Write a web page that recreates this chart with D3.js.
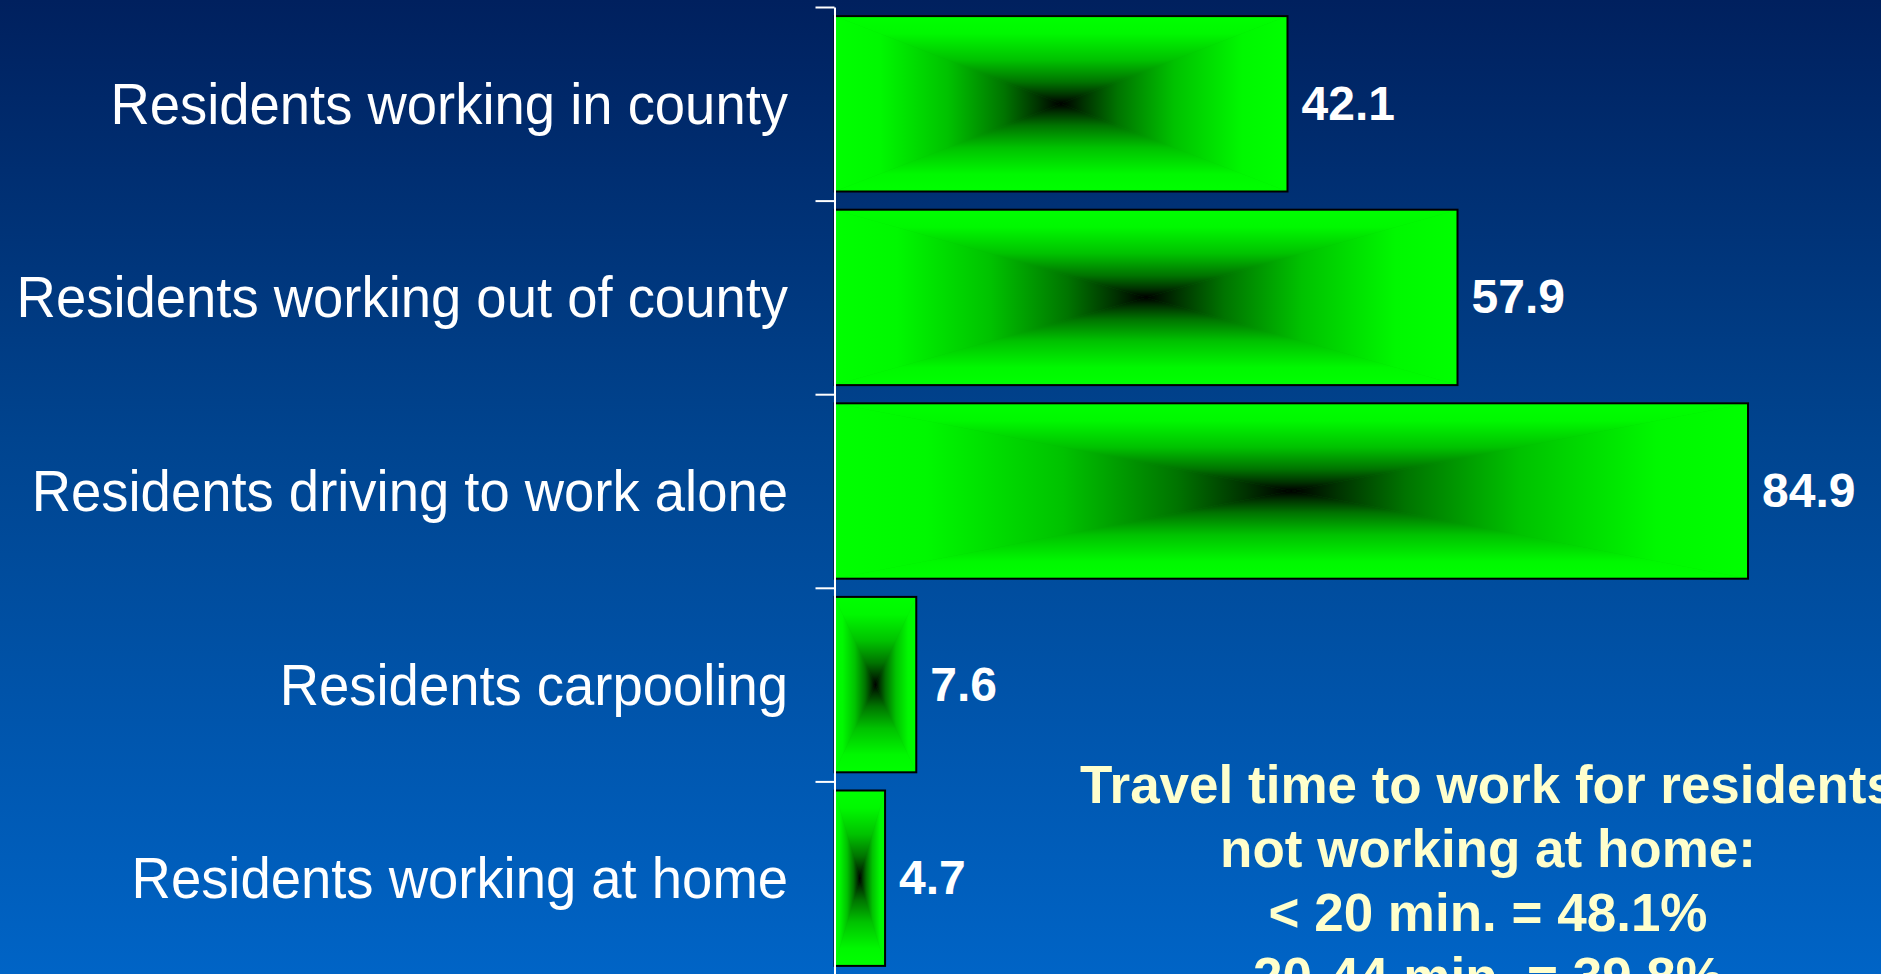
<!DOCTYPE html>
<html lang="en">
<head>
    <meta charset="UTF-8">
    <title>Residents commuting</title>
    <script src="https://cdnjs.cloudflare.com/ajax/libs/d3/7.8.5/d3.min.js"></script>
    <style>
        body { margin: 0; overflow: hidden; background: #00215e; }
        svg { display: block; }
    </style>
</head>
<body>
    <div id="chart"></div>

    <script>
        // chart data
        const categories = [
            "Residents working in county",
            "Residents working out of county",
            "Residents driving to work alone",
            "Residents carpooling",
            "Residents working at home"
        ];
        const values = [42.1, 57.9, 84.9, 7.6, 4.7];
        const noteLines = [
            "Travel time to work for residents",
            "not working at home:",
            "< 20 min. = 48.1%",
            "20-44 min. = 39.8%"
        ];

        const width = 1881, height = 974;
        const axisX = 834.5;

        const svg = d3.select("#chart")
            .append("svg")
            .attr("width", width)
            .attr("height", height);

        const defs = svg.append("defs");

        // slide background
        const bg = defs.append("linearGradient")
            .attr("id", "bg")
            .attr("x1", 0).attr("y1", 0).attr("x2", 0).attr("y2", 1);
        bg.append("stop").attr("offset", 0).attr("stop-color", "#00205e");
        bg.append("stop").attr("offset", 0.45).attr("stop-color", "#00448f");
        bg.append("stop").attr("offset", 1).attr("stop-color", "#0064c6");

        svg.append("rect")
            .attr("width", width)
            .attr("height", height)
            .attr("fill", "url(#bg)");

        // "from center" fill: four triangles, each with a linear ramp edge -> centre
        const ramps = [
            { id: "gTop", x1: 0, y1: 0, x2: 0, y2: 1 },
            { id: "gBottom", x1: 0, y1: 1, x2: 0, y2: 0 },
            { id: "gLeft", x1: 0, y1: 0, x2: 1, y2: 0 },
            { id: "gRight", x1: 1, y1: 0, x2: 0, y2: 0 }
        ];
        const rampStops = [
            [0, "#00ff00"], [0.2, "#00f800"], [0.5, "#00c200"],
            [0.75, "#007400"], [0.9, "#003200"], [1, "#000000"]
        ];
        ramps.forEach(r => {
            const g = defs.append("linearGradient")
                .attr("id", r.id)
                .attr("x1", r.x1).attr("y1", r.y1)
                .attr("x2", r.x2).attr("y2", r.y2);
            rampStops.forEach(s => {
                g.append("stop").attr("offset", s[0]).attr("stop-color", s[1]);
            });
        });

        const x = d3.scaleLinear()
            .domain([0, 100])
            .range([axisX, axisX + 1076]);

        const y = d3.scaleBand()
            .domain(categories)
            .range([7, 975])
            .paddingInner(0.094)
            .paddingOuter(0.047);

        const data = categories.map((c, i) => ({ cat: c, value: values[i] }));

        // bars
        const bars = svg.append("g")
            .selectAll("g.bar")
            .data(data)
            .enter()
            .append("g")
            .attr("class", "bar");

        bars.each(function(d) {
            const g = d3.select(this);
            const x0 = x(0), x1 = x(d.value);
            const y0 = y(d.cat), y1 = y0 + y.bandwidth();
            const cx = (x0 + x1) / 2, cy = (y0 + y1) / 2;
            const tris = [
                { fill: "gTop", pts: [[x0, y0], [x1, y0], [cx, cy]] },
                { fill: "gBottom", pts: [[x0, y1], [x1, y1], [cx, cy]] },
                { fill: "gLeft", pts: [[x0, y0], [x0, y1], [cx, cy]] },
                { fill: "gRight", pts: [[x1, y0], [x1, y1], [cx, cy]] }
            ];
            g.append("rect")
                .attr("x", x0).attr("y", y0)
                .attr("width", x1 - x0).attr("height", y1 - y0)
                .attr("fill", "#00b000");
            tris.forEach(t => {
                g.append("polygon")
                    .attr("points", t.pts.map(p => p.join(",")).join(" "))
                    .attr("fill", `url(#${t.fill})`)
                    .attr("stroke", `url(#${t.fill})`)
                    .attr("stroke-width", 0.6);
            });
            g.append("rect")
                .attr("x", x0).attr("y", y0)
                .attr("width", x1 - x0).attr("height", y1 - y0)
                .attr("fill", "none")
                .attr("stroke", "#000")
                .attr("stroke-width", 2);
        });

        // value labels
        svg.append("g")
            .selectAll("text.value")
            .data(data)
            .enter()
            .append("text")
            .attr("class", "value")
            .attr("x", d => x(d.value) + 14)
            .attr("y", d => y(d.cat) + y.bandwidth() / 2 + 16)
            .attr("font-family", "'Liberation Sans', Arial, sans-serif")
            .attr("font-weight", "bold")
            .attr("font-size", 48)
            .attr("fill", "#fff")
            .text(d => d.value.toFixed(1));

        // axis: tick marks sit between categories
        const edges = d3.scaleLinear()
            .domain([0, categories.length])
            .range([y.range()[0], y.range()[1]]);

        const axis = svg.append("g")
            .attr("transform", `translate(${axisX},0)`)
            .call(d3.axisLeft(edges)
                .ticks(categories.length)
                .tickSizeInner(19)
                .tickSizeOuter(0)
                .tickFormat(""));
        axis.selectAll("path, line")
            .attr("stroke", "#fff")
            .attr("stroke-width", 2);

        // category labels
        svg.append("g")
            .selectAll("text.cat")
            .data(data)
            .enter()
            .append("text")
            .attr("class", "cat")
            .attr("transform", d => `translate(788,${y(d.cat) + y.bandwidth() / 2 + 20}) scale(0.955,1)`)
            .attr("text-anchor", "end")
            .attr("font-family", "'Liberation Sans', Arial, sans-serif")
            .attr("font-size", 57)
            .attr("fill", "#fff")
            .text(d => d.cat);

        // note
        svg.append("g")
            .selectAll("text.note")
            .data(noteLines)
            .enter()
            .append("text")
            .attr("class", "note")
            .attr("x", 1488)
            .attr("y", (d, i) => 803 + i * 64)
            .attr("text-anchor", "middle")
            .attr("font-family", "'Liberation Sans', Arial, sans-serif")
            .attr("font-weight", "bold")
            .attr("font-size", 53)
            .attr("fill", "#ffffcc")
            .text(d => d);
    </script>
</body>
</html>
